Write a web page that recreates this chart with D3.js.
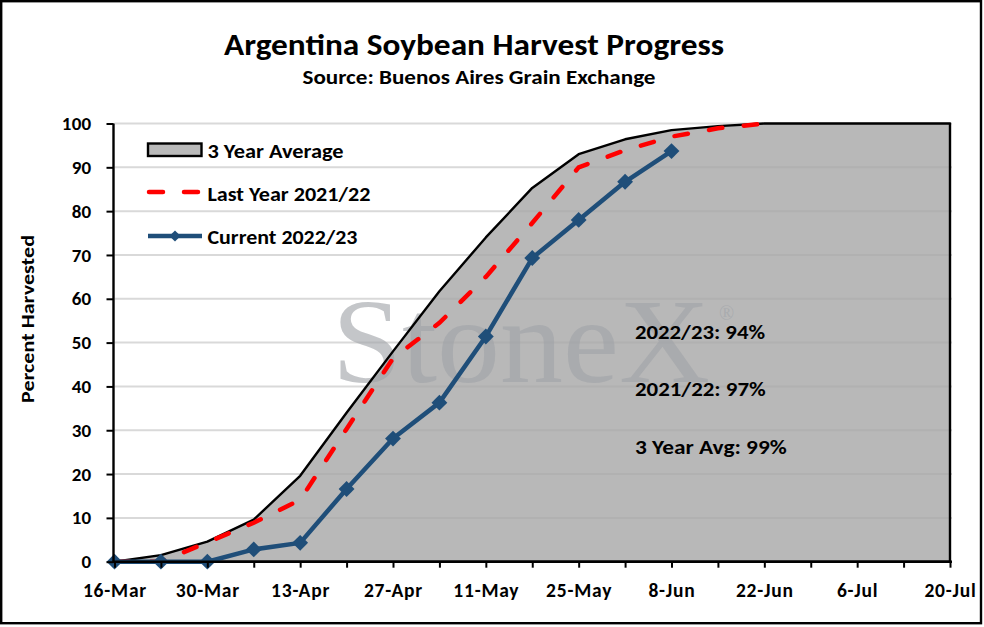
<!DOCTYPE html>
<meta charset="utf-8">
<style>
  body { margin: 0; background: #fff; }
  text { font-family: Carlito, Lato, "Open Sans", sans-serif; font-weight: bold; }
</style>
<body>
<script src="https://cdn.jsdelivr.net/npm/d3@7"></script>
<script>

// weekly dates (16-Mar .. 20-Jul)
var weeks = ["2023-03-16", "2023-03-23", "2023-03-30", "2023-04-06", "2023-04-13",
             "2023-04-20", "2023-04-27", "2023-05-04", "2023-05-11", "2023-05-18",
             "2023-05-25", "2023-06-01", "2023-06-08", "2023-06-15", "2023-06-22",
             "2023-06-29", "2023-07-06", "2023-07-13", "2023-07-20"];

var avg3yr   = [0, 1.5, 4.6, 9.6, 19.6, 34.0, 48.0, 61.7, 74.0, 85.3, 93.0, 96.4,
                98.5, 99.4, 100, 100, 100, 100, 100];
var lastYear = [0, 0, 4.4, 8.9, 14.1, 30.3, 46.4, 54.5, 65.0, 77.3, 90.0, 93.9,
                97.0, 98.9, 100];
var current  = [0, 0, 0, 2.8, 4.3, 16.6, 28.1, 36.3, 51.4, 69.3, 78.0, 86.7, 93.7];

var yTicks = [0, 10, 20, 30, 40, 50, 60, 70, 80, 90, 100];

var legendLabels = ["3 Year Average", "Last Year 2021/22", "Current 2022/23"];
var notes = ["2022/23: 94%", "2021/22: 97%", "3 Year Avg: 99%"];

var w = 984,
    h = 627;

var parse = d3.utcParse("%Y-%m-%d"),
    dates = weeks.map(parse);

var x = d3.scaleUtc()
    .domain([dates[0], dates[dates.length - 1]])
    .range([114.5, 950]);

var y = d3.scaleLinear()
    .domain([0, 100])
    .range([561.7, 123.5]);

var svg = d3.select("body").append("svg")
    .attr("width", w)
    .attr("height", h);

// chart border
svg.append("rect")
    .attr("x", 1.2).attr("y", 1.2)
    .attr("width", 979.8).attr("height", 622)
    .attr("fill", "none")
    .attr("stroke", "#000")
    .attr("stroke-width", 2.4);

function fit(sel, len) {
  return sel.attr("textLength", len).attr("lengthAdjust", "spacingAndGlyphs");
}

// titles
fit(svg.append("text")
    .attr("x", 474).attr("y", 55)
    .attr("text-anchor", "middle")
    .style("font-size", "30.5px")
    .text("Argentina Soybean Harvest Progress"), 500);

fit(svg.append("text")
    .attr("x", 479).attr("y", 84)
    .attr("text-anchor", "middle")
    .style("font-size", "20.5px")
    .text("Source: Buenos Aires Grain Exchange"), 353);

// gridlines
svg.append("g")
  .selectAll("line")
  .data(yTicks.slice(1))
  .enter().append("line")
    .attr("x1", x.range()[0]).attr("x2", x.range()[1] + 2)
    .attr("y1", function(d) { return y(d); })
    .attr("y2", function(d) { return y(d); })
    .attr("stroke", "#d9d9d9")
    .attr("stroke-width", 2);

// 3 year average area
var avgPts = avg3yr.map(function(v, i) { return [dates[i], v]; });

var area = d3.area()
    .x(function(d) { return x(d[0]); })
    .y0(y(0))
    .y1(function(d) { return y(d[1]); });

svg.append("path")
    .datum(avgPts)
    .attr("d", area)
    .attr("fill", "#a6a6a6")
    .attr("fill-opacity", 0.8);

// watermark
fit(svg.append("text")
    .attr("x", 332).attr("y", 382)
    .style("font-family", "'Liberation Serif', 'DejaVu Serif', serif")
    .style("font-weight", "normal")
    .style("font-size", "120px")
    .style("fill", "#9fa3a8")
    .style("fill-opacity", 0.62)
    .text("StoneX"), 378);

svg.append("text")
    .attr("x", 719).attr("y", 320)
    .style("font-family", "'Liberation Serif', serif")
    .style("font-weight", "normal")
    .style("font-size", "20px")
    .style("fill", "#9fa3a8")
    .style("fill-opacity", 0.62)
    .text("\u00ae");

// area outline
svg.append("path")
    .datum(avgPts)
    .attr("d", area)
    .attr("fill", "none")
    .attr("stroke", "#000")
    .attr("stroke-width", 2.4)
    .attr("stroke-linejoin", "round");

var line = d3.line()
    .x(function(d, i) { return x(dates[i]); })
    .y(function(d) { return y(d); });

// last year
svg.append("path")
    .datum(lastYear)
    .attr("d", line)
    .attr("fill", "none")
    .attr("stroke", "#ff0000")
    .attr("stroke-width", 4.5)
    .attr("stroke-linecap", "round")
    .attr("stroke-dasharray", "13.5,21.5")
    .attr("stroke-dashoffset", 33.6);

// current year
var diamond = d3.symbol().type(d3.symbolDiamond2);

svg.append("path")
    .datum(current)
    .attr("d", line)
    .attr("fill", "none")
    .attr("stroke", "#1f4e79")
    .attr("stroke-width", 4.5)
    .attr("stroke-linejoin", "round");

svg.append("g")
  .selectAll("path")
  .data(current)
  .enter().append("path")
    .attr("transform", function(d, i) { return "translate(" + x(dates[i]) + "," + y(d) + ")"; })
    .attr("d", diamond.size(160))
    .attr("fill", "#1f4e79");

// axes
var yAxis = svg.append("g")
    .attr("transform", "translate(" + (x.range()[0] - 1) + ",0)")
    .call(d3.axisLeft(y).tickValues(yTicks).tickSize(7).tickPadding(15));

var xAxis = svg.append("g")
    .attr("transform", "translate(0," + y(0) + ")")
    .call(d3.axisBottom(x)
        .tickValues(dates)
        .tickSize(6)
        .tickPadding(15)
        .tickFormat(function(d, i) { return i % 2 ? "" : d3.utcFormat("%-d-%b")(d); }));

[yAxis, xAxis].forEach(function(a) {
  a.select(".domain").attr("stroke", "#000").attr("stroke-width", 2.4);
  a.selectAll(".tick line").attr("stroke", "#000").attr("stroke-width", 2);
  a.selectAll("text")
      .style("font-family", "Carlito, Lato, sans-serif")
      .style("font-weight", "bold")
      .style("fill", "#000");
});
yAxis.selectAll("text").style("font-size", "19px").style("letter-spacing", "0.3px");
xAxis.selectAll("text").style("font-size", "19.5px").style("letter-spacing", "0.8px");
xAxis.select(".domain").attr("d", "M" + (x.range()[0] - 2) + ",0H" + (x.range()[1] + 2));
yAxis.select(".domain").attr("d", "M0," + y(0) + "V" + y(100));

fit(svg.append("text")
    .attr("transform", "translate(34,319) rotate(-90)")
    .attr("text-anchor", "middle")
    .style("font-size", "19px")
    .text("Percent Harvested"), 168);

// legend
var lg = svg.append("g");

lg.append("rect")
    .attr("x", 148).attr("y", 143.5)
    .attr("width", 53.5).attr("height", 12.5)
    .attr("fill", "#b9b9b9")
    .attr("stroke", "#000")
    .attr("stroke-width", 2.4);

lg.append("line")
    .attr("x1", 149).attr("x2", 201)
    .attr("y1", 192).attr("y2", 192)
    .attr("stroke", "#ff0000")
    .attr("stroke-width", 4.5)
    .attr("stroke-linecap", "round")
    .attr("stroke-dasharray", "14,21");

lg.append("line")
    .attr("x1", 148).attr("x2", 202)
    .attr("y1", 236).attr("y2", 236)
    .attr("stroke", "#1f4e79")
    .attr("stroke-width", 4.5);

lg.append("path")
    .attr("transform", "translate(175,236)")
    .attr("d", diamond.size(80))
    .attr("fill", "#1f4e79");

var legendLens = [136, 163, 150];
legendLabels.forEach(function(t, i) {
  fit(lg.append("text")
      .attr("x", 207.5).attr("y", 157.5 + i * 43)
      .style("font-size", "19.5px")
      .text(t), legendLens[i]);
});

// notes
var noteLens = [130, 130.7, 151.7];
var noteY = [339, 395.5, 454];
notes.forEach(function(t, i) {
  fit(svg.append("text")
      .attr("x", 635).attr("y", noteY[i])
      .style("font-size", "20px")
      .text(t), noteLens[i]);
});

</script>
